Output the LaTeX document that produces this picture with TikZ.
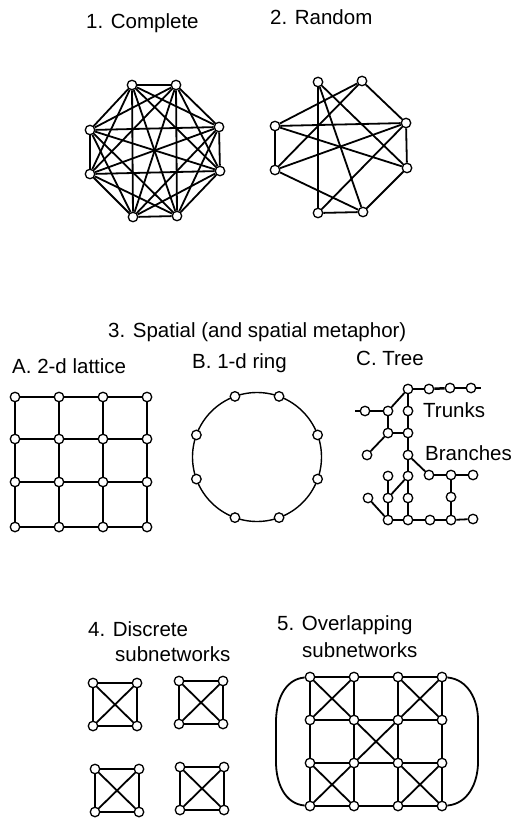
\documentclass[tikz,border=0pt]{standalone}
\usepackage{fontspec}
\setmainfont{Liberation Sans}
\usetikzlibrary{calc}
\begin{document}
\begin{tikzpicture}[x=1pt,y=-1pt,
  lab/.style={font=\fontsize{20.5}{24}\selectfont, inner sep=0pt, anchor=base west},
  dot/.style={circle, draw, fill=white, inner sep=0pt, minimum size=9.5pt, line width=1.3pt},
  edge/.style={line width=1.8pt},
  thin edge/.style={line width=1.4pt},
  trunk/.style={line width=2.5pt}]
\useasboundingbox (0,0) rectangle (514,821);

% ---------- titles ----------
\node[lab] (t1lab) at (86,29) {1. Complete};
\node[lab] (t2lab) at (270,25) {2. Random};
\node[lab] (t3lab) at (108,337) {3. Spatial (and spatial metaphor)};
\node[lab] (tAlab) at (12,373) {A. 2-d lattice};
\node[lab] (tBlab) at (192,368) {B. 1-d ring};
\node[lab] (tClab) at (356,365) {C. Tree};
\node[lab] (trlab) at (423,417) {Trunks};
\node[lab] (brlab) at (425,460) {Branches};
\node[lab] (t4lab) at (88,636) {4. Discrete};
\node[lab] (t4blab) at (115,661) {subnetworks};
\node[lab] (t5lab) at (277,630) {5. Overlapping};
\node[lab] (t5blab) at (302,657) {subnetworks};

% ---------- 1. complete ----------
\foreach \n/\x/\y in {1/132/85,2/176/85,3/219/127,4/220/171,5/177/216,6/133/217,7/90/174,8/90/130}
  \node[dot] (c\n) at (\x,\y) {};
\foreach \i [evaluate=\i as \k using int(\i+1)] in {1,...,7}
  \foreach \j in {\k,...,8}
    \draw[edge] (c\i) -- (c\j);

% ---------- 2. random ----------
\foreach \n/\x/\y in {1/318/82,2/362/81,3/406/123,4/407/168,5/363/212,6/318/213,7/275/170,8/275/126}
  \node[dot] (r\n) at (\x,\y) {};
\foreach \a/\b in {8/3,8/7,3/4,6/5,8/2,8/4,7/3,7/5,3/6,4/5,1/6,1/5,1/4,2/7,2/3}
  \draw[edge] (r\a) -- (r\b);

% ---------- A. lattice ----------
\foreach \c/\x in {1/15,2/59,3/103,4/147}
  \foreach \r/\y in {1/397,2/439,3/482,4/527}
    \node[dot] (g\c\r) at (\x,\y) {};
\foreach \r in {1,2,3,4} {
  \draw[edge] (g1\r) -- (g2\r);
  \draw[edge] (g2\r) -- (g3\r);
  \draw[edge] (g3\r) -- (g4\r);
}
\foreach \c in {1,2,3,4} {
  \draw[edge] (g\c1) -- (g\c2);
  \draw[edge] (g\c2) -- (g\c3);
  \draw[edge] (g\c3) -- (g\c4);
}

% ---------- B. ring ----------
\coordinate (rc) at (257,457);
\draw[thin edge] (rc) circle[radius=64.5];
\foreach \n/\a in {1/20,2/70,3/110,4/160,5/200,6/250,7/290,8/340}
  \node[dot] (ring\n) at ($(rc)+(\a:64.5)$) {};

% ---------- C. tree ----------
\foreach \n/\x/\y in {t1/408/389,t2/429/389,t3/450/388,t4/471/388,
  k2/408/411,k3/408/433,k4/408/455,k5/408/476,k6/408/498,k7/408/520,
  l1/388/411,l2/388/433,l3/388/476,l4/388/498,l5/388/520,
  f1/365/411,f2/367/455,f3/368/498,
  b1/429/475,b2/451/475,b3/473/475,b4/451/497,
  m1/430/520,m2/451/520,m3/473/519}
  \node[dot] (\n) at (\x,\y) {};
\coordinate (te) at (481,388);
\coordinate (fe) at (355,411);
\draw[trunk] (t1) -- (t2); \draw[trunk] (t2) -- (t3); \draw[trunk] (t3) -- (t4); \draw[trunk] (t4) -- (te);
\draw[trunk] (t1) -- (k2); \draw[trunk] (k2) -- (k3); \draw[trunk] (k3) -- (k4);
\draw[trunk] (k4) -- (k5); \draw[trunk] (k5) -- (k6); \draw[trunk] (k6) -- (k7);
\foreach \a/\b in {t1/l1,fe/f1,f1/l1,l1/l2,l2/k3,l2/f2,k4/b1,b1/b2,b2/b3,b2/b4,b4/m2,
  l5/k7,k7/m1,m1/m2,m2/m3,l3/l4,l4/l5,l4/k5,f3/l5}
  \draw[edge] (\a) -- (\b);

% ---------- 4. discrete ----------
\foreach \s/\x/\y in {1/93/683,2/179/681,3/95/769,4/180/767} {
  \node[dot] (d\s a) at (\x,\y) {};
  \node[dot] (d\s b) at (\x+44,\y) {};
  \node[dot] (d\s c) at (\x+44,\y+43) {};
  \node[dot] (d\s d) at (\x,\y+43) {};
  \draw[edge] (d\s a) -- (d\s b);
  \draw[edge] (d\s b) -- (d\s c);
  \draw[edge] (d\s c) -- (d\s d);
  \draw[edge] (d\s d) -- (d\s a);
  \draw[edge] (d\s a) -- (d\s c);
  \draw[edge] (d\s b) -- (d\s d);
}

% ---------- 5. overlapping ----------
\foreach \c/\x in {1/310,2/354,3/398,4/442}
  \foreach \r/\y in {1/677,2/720,3/763,4/806}
    \node[dot] (o\c\r) at (\x,\y) {};
\foreach \r in {1,2,3,4} {
  \draw[edge] (o1\r) -- (o2\r);
  \draw[edge] (o2\r) -- (o3\r);
  \draw[edge] (o3\r) -- (o4\r);
}
\foreach \c in {1,2,3,4} {
  \draw[edge] (o\c1) -- (o\c2);
  \draw[edge] (o\c2) -- (o\c3);
  \draw[edge] (o\c3) -- (o\c4);
}
\foreach \c/\r [evaluate=\c as \cc using int(\c+1), evaluate=\r as \rr using int(\r+1)] in {1/1,3/1,2/2,1/3,3/3} {
  \draw[edge] (o\c\r) -- (o\cc\rr);
  \draw[edge] (o\cc\r) -- (o\c\rr);
}
\coordinate (ol1) at (276,722);
\coordinate (ol2) at (276,762);
\coordinate (or1) at (478,720);
\coordinate (or2) at (478,762);
\draw[edge] (o11) to[out=185,in=90] (ol1) -- (ol2) to[out=-90,in=175] (o14);
\draw[edge] (o41) to[out=-5,in=90] (or1) -- (or2) to[out=-90,in=5] (o44);
\end{tikzpicture}
\end{document}
